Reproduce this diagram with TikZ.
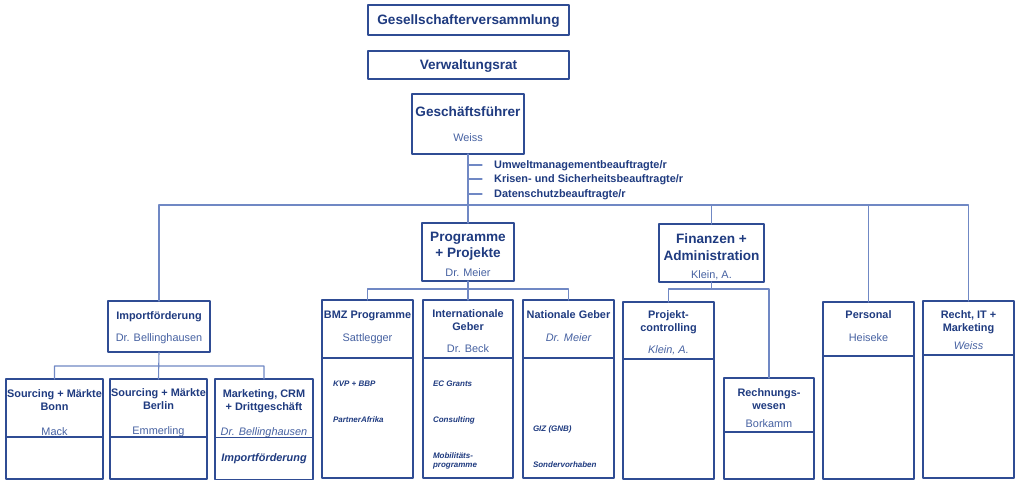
\documentclass[tikz,border=0pt]{standalone}
\usepackage{fontspec}
\setmainfont{Liberation Sans}
\usetikzlibrary{positioning}
\definecolor{boxblue}{HTML}{2F4C94}
\definecolor{lineblue}{HTML}{7088C4}
\definecolor{ttlblue}{HTML}{1F3B80}
\definecolor{nameblue}{HTML}{4762A2}
\newcommand{\pname}[1]{{\fontsize{10.9}{13}\selectfont\mdseries\color{nameblue}#1}}
\newcommand{\pitname}[1]{{\fontsize{10.9}{13}\selectfont\mdseries\itshape\color{nameblue}#1}}
\newcommand{\drop}[1]{\rule{0pt}{#1pt}}
\newcommand{\lift}[1]{\rule[-#1pt]{0pt}{0pt}}
\tikzset{
	box/.style={draw=boxblue, line width=1.5pt, fill=white, inner xsep=1pt, inner ysep=0pt, outer sep=0pt, align=center, text=ttlblue, font=\fontsize{10.9}{13}\selectfont\bfseries},
	bigbox/.style={box, font=\fontsize{13.6}{16}\selectfont\bfseries},
	conn/.style={draw=lineblue, line width=1.1pt},
	item/.style={inner sep=0pt, outer sep=0pt, align=left, text=ttlblue, font=\fontsize{8}{9}\selectfont\bfseries\itshape},
	staff/.style={inner sep=0pt, anchor=west, text depth=0pt, text=ttlblue, font=\fontsize{10.9}{13}\selectfont\bfseries}
}
\begin{document}
\begin{tikzpicture}[x=1pt, y=-1pt, line join=round, line cap=round]
	\fill[white] (0,0) rectangle (1020,484);
	\useasboundingbox (0,0) rectangle (1020,484);
	\node[bigbox, text depth=0pt, anchor=north west, minimum width=201, minimum height=30] (gv) at (368,5) {Gesellschafterversammlung};
	\node[bigbox, text depth=0pt, anchor=north west, minimum width=201, minimum height=28] (vr) at (368,51) {Verwaltungsrat};
	\node[bigbox, anchor=north west, minimum width=112, minimum height=60] (gf) at (412,94) {Geschäftsführer\\[9pt]\pname{Weiss}};
	\node[staff] (umw) at (494,165) {Umweltmanagementbeauftragte/r};
	\node[staff] (kri) at (494,179) {Krisen- und Sicherheitsbeauftragte/r};
	\node[staff] (dsb) at (494,194) {Datenschutzbeauftragte/r};
	\node[bigbox, anchor=north west, minimum width=92, minimum height=58] (pp) at (422,223) {\drop{15}Programme\\+ Projekte\\[3pt]\pname{Dr. Meier}};
	\node[bigbox, anchor=north west, minimum width=105, minimum height=58] (fa) at (659,224) {\drop{18}Finanzen +\\[1pt]Administration\\[2pt]\pname{Klein, A.}};
	\node[box, anchor=north west, minimum width=102, minimum height=51] (imp) at (108,301) {\drop{10}Importförderung\\[9pt]\pname{Dr. Bellinghausen}};
	\node[box, anchor=north west, minimum width=97, minimum height=58] (bonn) at (6,379) {\drop{17}Sourcing + Märkte\\Bonn\\[12pt]\pname{Mack}};
	\node[box, minimum width=97, minimum height=42, below=0pt of bonn] (bonnb) {};
	\node[box, anchor=north west, minimum width=97, minimum height=58] (berlin) at (110,379) {\drop{17}Sourcing + Märkte\\Berlin\\[12pt]\pname{Emmerling}};
	\node[box, minimum width=97, minimum height=42, below=0pt of berlin] (berlinb) {};
	\node[box, anchor=north west, minimum width=98, minimum height=58] (mkt) at (215,379) {\drop{18}Marketing, CRM\\+ Drittgeschäft\\[12pt]\pitname{Dr. Bellinghausen}};
	\node[box, minimum width=98, minimum height=42, below=0pt of mkt] (mktb) {\itshape Importförderung};
	\node[box, anchor=north west, minimum width=91, minimum height=58] (bmz) at (322,300) {BMZ Programme\\[10pt]\pname{Sattlegger}\lift{6.3}};
	\node[box, minimum width=91, minimum height=120, below=0pt of bmz] (bmzb) {};
	\node[item, below right=23pt and 11pt of bmzb.north west] (bmzlist) {KVP + BBP\\[27pt]PartnerAfrika};
	\node[box, anchor=north west, minimum width=90, minimum height=58] (ig) at (423,300) {\drop{13}Internationale\\Geber\\[9pt]\pname{Dr. Beck}};
	\node[box, minimum width=90, minimum height=120, below=0pt of ig] (igb) {};
	\node[item, below right=23pt and 10pt of igb.north west] (iglist) {EC Grants\\[27pt]Consulting\\[27pt]Mobilitäts-\\programme};
	\node[box, anchor=north west, minimum width=91, minimum height=58] (ng) at (523,300) {Nationale Geber\\[10pt]\pitname{Dr. Meier}\lift{6}};
	\node[box, minimum width=91, minimum height=120, below=0pt of ng] (ngb) {};
	\node[item, below right=68pt and 10pt of ngb.north west] (nglist) {GIZ (GNB)\\[27pt]Sondervorhaben};
	\node[box, anchor=north west, minimum width=91, minimum height=57] (pc) at (623,302) {\drop{12}Projekt-\\controlling\\[9pt]\pitname{Klein, A.}};
	\node[box, minimum width=91, minimum height=120, below=0pt of pc] (pcb) {};
	\node[box, anchor=north west, minimum width=90, minimum height=54] (rw) at (724,378) {\drop{15}Rechnungs-\\wesen\\[5pt]\pname{Borkamm}};
	\node[box, minimum width=90, minimum height=47, below=0pt of rw] (rwb) {};
	\node[box, anchor=north west, minimum width=91, minimum height=54] (pers) at (823,302) {Personal\\[10pt]\pname{Heiseke}\lift{6}};
	\node[box, minimum width=91, minimum height=123, below=0pt of pers] (persb) {};
	\node[box, anchor=north west, minimum width=91, minimum height=54] (rit) at (923,301) {\drop{12}Recht, IT +\\Marketing\\[5pt]\pitname{Weiss}};
	\node[box, minimum width=91, minimum height=123, below=0pt of rit] (ritb) {};
	\coordinate (busR) at (968.5,205);
	\coordinate (impbar) at (159,366);
	\coordinate (ppbar) at (468,289);
	\coordinate (fabar) at (711.5,289);
	\draw[conn] (gf.south) -- (pp.north);
	\foreach \s in {umw,kri,dsb} \draw[conn] (gf.south |- \s.west) -- ([xshift=-12pt]\s.west);
	\draw[conn] (imp.north) |- (busR) -- (rit.north);
	\draw[conn] (fa.north) -- (fa.north |- busR) (pers.north) -- (pers.north |- busR);
	\draw[conn] (imp.south) -- (berlin.north) (bonn.north) |- (impbar) -| (mkt.north);
	\draw[conn] (pp.south) -- (ig.north) (bmz.north) |- (ppbar) -| (ng.north);
	\draw[conn] (fa.south) -- (fabar) (pc.north) |- (fabar) -| (rw.north);
\end{tikzpicture}
\end{document}
